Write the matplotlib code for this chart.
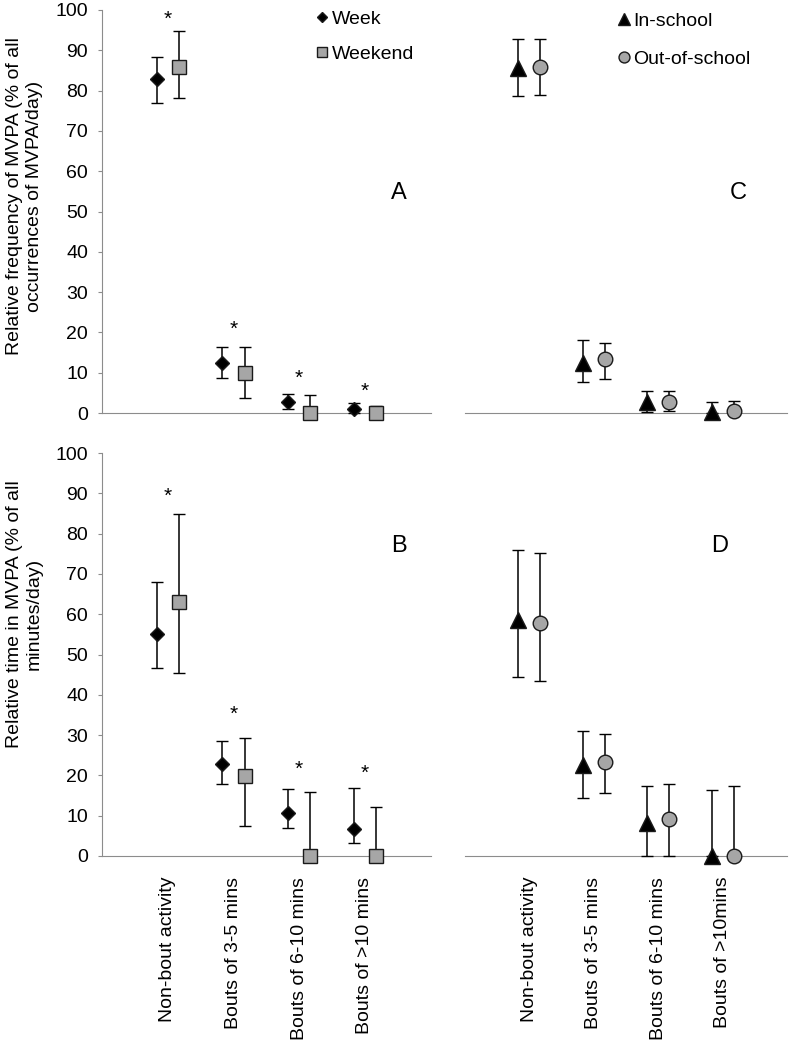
import matplotlib.pyplot as plt
import numpy as np

plt.rcParams['font.family'] = ['Liberation Sans', 'DejaVu Sans']

# categories (tick labels)
cats_left = ['Non-bout activity', 'Bouts of 3-5 mins', 'Bouts of 6-10 mins', 'Bouts of >10 mins']
cats_right = ['Non-bout activity', 'Bouts of 3-5 mins', 'Bouts of 6-10 mins', 'Bouts of >10mins']

# A: relative frequency, week vs weekend (mean, lower, upper)
a_week = [83.0, 12.5, 2.8, 1.0]
a_week_lo = [76.9, 8.8, 0.9, 0.0]
a_week_hi = [88.3, 16.3, 4.7, 2.5]
a_wknd = [85.8, 10.0, 0.0, 0.0]
a_wknd_lo = [78.2, 3.8, 0.0, 0.0]
a_wknd_hi = [94.7, 16.3, 4.5, 1.7]
a_star = [98.5, 21.4, 9.4, 6.1]

# B: relative time, week vs weekend
b_week = [55.1, 22.8, 10.6, 6.6]
b_week_lo = [46.7, 17.9, 6.9, 3.3]
b_week_hi = [68.1, 28.6, 16.6, 16.9]
b_wknd = [63.1, 19.9, 0.0, 0.0]
b_wknd_lo = [45.3, 7.5, 0.0, 0.0]
b_wknd_hi = [84.9, 29.2, 16.0, 12.1]
b_star = [90.0, 35.8, 22.2, 21.3]

# C: relative frequency, in-school vs out-of-school
c_in = [85.5, 12.3, 2.8, 0.2]
c_in_lo = [78.7, 7.8, 0.3, 0.0]
c_in_hi = [92.8, 18.1, 5.5, 2.8]
c_out = [85.9, 13.3, 2.8, 0.4]
c_out_lo = [79.0, 8.4, 0.5, 0.0]
c_out_hi = [92.8, 17.4, 5.5, 3.1]

# D: relative time, in-school vs out-of-school
d_in = [58.6, 22.6, 8.1, 0.0]
d_in_lo = [44.5, 14.3, 0.0, 0.0]
d_in_hi = [75.9, 31.1, 17.4, 16.4]
d_out = [57.7, 23.4, 9.3, 0.0]
d_out_lo = [43.5, 15.7, 0.0, 0.0]
d_out_hi = [75.3, 30.3, 17.9, 17.4]

GRAY = '#a6a6a6'
AX_GRAY = '#8c8c8c'
FS = 14

fig = plt.figure(figsize=(7.9, 10.43), dpi=100)
W, H = 790, 1043


def add_ax(x0, y_top, w, h):
    return fig.add_axes([x0 / W, 1 - (y_top + h) / H, w / W, h / H])


axA = add_ax(102, 10, 328.5, 403)
axB = add_ax(102, 453, 328.5, 403)
axC = add_ax(465, 10, 322, 403)
axD = add_ax(465, 453, 322, 403)

x = np.arange(1, 5)
off = 0.17


def series(ax, xs, m, lo, hi, marker, ms, fc):
    m = np.array(m)
    err = [m - np.array(lo), np.array(hi) - m]
    c = ax.errorbar(xs, m, yerr=err, fmt=marker, ms=ms, mfc=fc, mec='#1a1a1a',
                    mew=1.0, ecolor='black', elinewidth=1.1, capsize=4, capthick=1.1,
                    clip_on=False, zorder=3)
    return c[0]


hA1 = series(axA, x - off, a_week, a_week_lo, a_week_hi, 'D', 7.3, 'black')
hA2 = series(axA, x + off, a_wknd, a_wknd_lo, a_wknd_hi, 's', 10, GRAY)
series(axB, x - off, b_week, b_week_lo, b_week_hi, 'D', 7.3, 'black')
series(axB, x + off, b_wknd, b_wknd_lo, b_wknd_hi, 's', 10, GRAY)
hC1 = series(axC, x - off, c_in, c_in_lo, c_in_hi, '^', 11, 'black')
hC2 = series(axC, x + off, c_out, c_out_lo, c_out_hi, 'o', 10.5, GRAY)
series(axD, x - off, d_in, d_in_lo, d_in_hi, '^', 11, 'black')
series(axD, x + off, d_out, d_out_lo, d_out_hi, 'o', 10.5, GRAY)

for ax, stars in [(axA, a_star), (axB, b_star)]:
    for xi, s in zip(x, stars):
        ax.annotate('*', (xi, s), xytext=(0, -6), textcoords='offset points',
                    ha='center', va='baseline', fontsize=15)

for ax in [axA, axB, axC, axD]:
    ax.set_xlim(0, 5)
    ax.set_ylim(0, 100)
    ax.set_xticks([])
    ax.spines['top'].set_visible(False)
    ax.spines['right'].set_visible(False)
    ax.spines['bottom'].set_color(AX_GRAY)
    ax.spines['left'].set_color(AX_GRAY)

for ax in [axA, axB]:
    ax.set_yticks(np.arange(0, 101, 10))
    ax.tick_params(axis='y', direction='out', length=3, color=AX_GRAY,
                   labelsize=FS, pad=7)

for ax in [axC, axD]:
    ax.spines['left'].set_visible(False)
    ax.set_yticks([])

axB.set_xticks(x, cats_left, rotation=90)
axD.set_xticks(x, cats_right, rotation=90)
for ax in [axB, axD]:
    ax.tick_params(axis='x', length=0, pad=15, labelsize=FS)

axA.set_ylabel('Relative frequency of MVPA (% of all\noccurrences of MVPA/day)',
               fontsize=FS)
axA.yaxis.set_label_coords(-0.18, 0.538)
axB.set_ylabel('Relative time in MVPA (% of all\nminutes/day)', fontsize=FS)
axB.yaxis.set_label_coords(-0.18, 0.6)

axA.text(0.905, 0.546, 'A', transform=axA.transAxes, fontsize=17, ha='center', va='center')
axB.text(0.905, 0.769, 'B', transform=axB.transAxes, fontsize=17, ha='center', va='center')
axC.text(0.848, 0.546, 'C', transform=axC.transAxes, fontsize=17, ha='center', va='center')
axD.text(0.792, 0.769, 'D', transform=axD.transAxes, fontsize=17, ha='center', va='center')

axA.legend(handles=[hA1, hA2], labels=['Week', 'Weekend'], loc='upper left',
           bbox_to_anchor=(0.653, 1.0), frameon=False, fontsize=FS,
           handlelength=0.6, handletextpad=0.2, labelspacing=0.9,
           markerscale=0.75, borderpad=0, borderaxespad=0)
axC.legend(handles=[hC1, hC2], labels=['In-school', 'Out-of-school'], loc='upper left',
           bbox_to_anchor=(0.475, 0.995), frameon=False, fontsize=FS,
           handlelength=0.6, handletextpad=0.2, labelspacing=1.05,
           markerscale=0.75, borderpad=0, borderaxespad=0)

fig.savefig('out.png', dpi=100)
